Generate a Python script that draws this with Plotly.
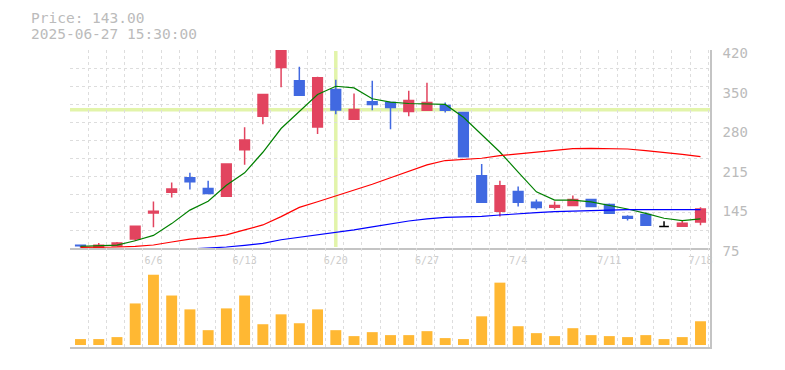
import plotly.graph_objects as go

# ---------------- data ----------------
dates = ["6/2", "6/3", "6/4", "6/5", "6/6",
         "6/9", "6/10", "6/11", "6/12", "6/13",
         "6/16", "6/17", "6/18", "6/19", "6/20",
         "6/23", "6/24", "6/25", "6/26", "6/27",
         "6/30", "7/1", "7/2", "7/3", "7/4",
         "7/7", "7/8", "7/9", "7/10", "7/11",
         "7/14", "7/15", "7/16", "7/17", "7/18"]

open_ = [80, 76.5, 78.5, 90.5, 136, 172, 197.5, 178.5, 165, 246,
         304.5, 389.5, 366.5, 286, 351, 299.5, 330, 328.5, 313, 315,
         323.5, 311, 201, 139, 173.5, 154.5, 146, 149, 159.5, 151,
         130, 133.5, 112.5, 113, 120.5]
high = [81, 83.5, 85.5, 113, 156, 189, 206, 192, 221.5, 285.5,
        342.5, 425, 391, 373.5, 368, 344, 366.5, 329, 349, 363,
        328.5, 311, 221.5, 192, 182, 159.5, 156, 166.5, 161, 152.5,
        132, 137, 121.5, 123, 146]
low = [76, 76, 78, 87, 111, 163, 177, 170, 164.5, 220,
       290.5, 355, 341, 273.5, 308, 299, 315, 282, 304.5, 315,
       311, 234, 154.5, 130, 147.5, 142, 142, 149, 147, 135,
       123, 114.5, 112, 113, 114.5]
close = [79, 80, 83.5, 113, 139, 178, 190.5, 170, 221.5, 263,
         342.5, 424, 341, 371.5, 315.5, 316.5, 325, 320, 332, 328.5,
         315, 234, 154.5, 183.5, 154.5, 145.5, 149, 159.5, 147.5, 135.5,
         127, 114.5, 112.5, 118, 143]

volume = [60, 60, 80, 420, 710, 500, 360, 150, 370, 500,
          210, 310, 220, 360, 150, 90, 130, 100, 100, 140,
          70, 60, 290, 630, 190, 120, 90, 170, 100, 90,
          80, 100, 60, 80, 240]

ma_short = [78, 78.5, 80, 87.6, 96.9, 117.5, 141, 156.6, 184.2, 206,
            241.8, 283.2, 313.6, 342.4, 356.8, 353.9, 335, 329.1, 326.8, 326.3,
            325.1, 302.7, 271.6, 242.3, 207.3, 172.8, 158.4, 158.4, 155.5, 149.8,
            142.9, 135.4, 126.8, 122.7, 125.6]
ma_mid = [76.2, 76, 76.7, 78, 80.2, 85.4, 90.5, 93.4, 97.9, 106.6,
          115.2, 129.6, 145.7, 155.5, 165.3, 175.6, 186, 197.5, 208.9, 219.9,
          227.4, 229.5, 231.4, 236, 238.9, 242.9, 245.8, 248.1, 248.7, 248.7,
          247.5, 244.6, 241.8, 238.3, 234.2]
ma_long = [None, None, None, None, None, None, 73.3, 74.5, 76.7, 79.6,
           83.1, 89.4, 93.4, 97.9, 102.6, 106.6, 111.8, 116.9, 122.1, 125.6,
           128.5, 129.3, 130.2, 132.5, 134.9, 136.6, 138.3, 139.4, 140, 140.6,
           141.7, 141.7, 141.7, 141.7, 141.7]

x_tick_labels = ["6/6", "6/13", "6/20", "6/27", "7/4", "7/11", "7/18"]
y_tick_vals = [75, 144, 213, 282, 351, 420]
y_tick_text = ["75", "145", "215", "280", "350", "420"]

cross_date = "6/20"
cross_price = 316
header_lines = ["Price: 143.00", "2025-06-27 15:30:00"]

# ---------------- styles ----------------
RED = "#e2445f"
BLUE = "#4169e1"
VOL = "#ffb833"
GRID = "#dddddd"
AXIS = "#c4c4c4"
TEXT = "#bbbbbb"
FONT = "DejaVu Sans Mono"

x = list(range(len(dates)))
doji = [i for i in x if open_[i] == close[i]]
norm = [i for i in x if open_[i] != close[i]]

fig = go.Figure()

fig.add_trace(go.Candlestick(
    x=[x[i] for i in norm], open=[open_[i] for i in norm], high=[high[i] for i in norm],
    low=[low[i] for i in norm], close=[close[i] for i in norm],
    increasing=dict(line=dict(color=RED, width=1.5), fillcolor=RED),
    decreasing=dict(line=dict(color=BLUE, width=1.5), fillcolor=BLUE),
    whiskerwidth=0, showlegend=False, hoverinfo="skip", xaxis="x", yaxis="y"))
fig.add_trace(go.Candlestick(
    x=[x[i] for i in doji], open=[open_[i] for i in doji], high=[high[i] for i in doji],
    low=[low[i] for i in doji], close=[close[i] for i in doji],
    increasing=dict(line=dict(color="#000000", width=1.5), fillcolor="#000000"),
    decreasing=dict(line=dict(color="#000000", width=1.5), fillcolor="#000000"),
    whiskerwidth=0, showlegend=False, hoverinfo="skip", xaxis="x", yaxis="y"))

for vals, col in [(ma_short, "#008000"), (ma_mid, "#ff0000"), (ma_long, "#0000ff")]:
    fig.add_trace(go.Scatter(x=x, y=vals, mode="lines", line=dict(color=col, width=1.2),
                             showlegend=False, hoverinfo="skip", xaxis="x", yaxis="y"))

fig.add_trace(go.Bar(x=x, y=volume, marker=dict(color=VOL, line=dict(width=0)),
                     width=0.6, showlegend=False, hoverinfo="skip", xaxis="x2", yaxis="y2"))

x_range = [-0.576, len(dates) - 1 + 0.521]
grid_minor = dict(tick0=-0.576, dtick=1, showgrid=True, gridcolor=GRID,
                  griddash="3px,3px", gridwidth=1, ticklen=0)

ymin, ymax = min(y_tick_vals), max(y_tick_vals)

# the page body adds an 8px offset; the figure is sized so the plot lands at
# x 70..710, y 50..350 of the window
fig.update_layout(
    width=777, height=362, autosize=False,
    margin=dict(l=62, r=75, t=42, b=20),
    paper_bgcolor="white", plot_bgcolor="white",
    boxgap=0.47, boxgroupgap=0,
    font=dict(family=FONT, color=TEXT),
    xaxis=dict(domain=[0, 1], anchor="y", range=x_range, rangeslider=dict(visible=False),
               tickmode="array", tickvals=[dates.index(t) for t in x_tick_labels],
               ticktext=x_tick_labels, ticks="", showgrid=False, zeroline=False,
               showline=True, linecolor=AXIS, linewidth=1.5,
               tickfont=dict(family=FONT, size=10, color="#cccccc"),
               ticklabelstandoff=2, minor=grid_minor),
    yaxis=dict(domain=[1 / 3, 1], anchor="x", side="right", range=[ymin, ymax],
               tickmode="array", tickvals=y_tick_vals, ticktext=y_tick_text,
               ticks="", showgrid=False, zeroline=False,
               showline=True, linecolor=AXIS, linewidth=1.5,
               tickfont=dict(family=FONT, size=14, color=TEXT),
               ticklabelstandoff=8, ticklabelshift=3,
               minor=dict(tick0=ymin, dtick=(ymax - ymin) / 11, showgrid=True,
                          gridcolor=GRID, griddash="3px,3px", gridwidth=1, ticklen=0)),
    xaxis2=dict(domain=[0, 1], anchor="y2", range=x_range, showticklabels=False,
                ticks="", showgrid=False, zeroline=False,
                showline=True, linecolor=AXIS, linewidth=1.5, minor=grid_minor),
    yaxis2=dict(domain=[0, 1 / 3], anchor="x2", side="right", range=[-20, 980],
                showticklabels=False, ticks="", showgrid=False, zeroline=False,
                showline=True, linecolor=AXIS, linewidth=1.5),
)

# crosshair
fig.add_shape(type="line", xref="x", yref="y domain", x0=dates.index(cross_date),
              x1=dates.index(cross_date), y0=0.005, y1=0.995,
              line=dict(color="#e2f4aa", width=3.5), layer="below")
fig.add_shape(type="line", xref="x domain", yref="y", x0=0, x1=1,
              y0=cross_price, y1=cross_price,
              line=dict(color="#e2f4aa", width=3.5), layer="below")

for k, txt in enumerate(header_lines):
    fig.add_annotation(text=txt, xref="paper", yref="paper",
                       x=-40 / 640, y=(350 - (17.5 + 16 * k)) / 300,
                       xanchor="left", yanchor="middle", showarrow=False,
                       borderpad=0,
                       font=dict(family=FONT, size=14.5, color=TEXT))

fig.write_html("out.html")
